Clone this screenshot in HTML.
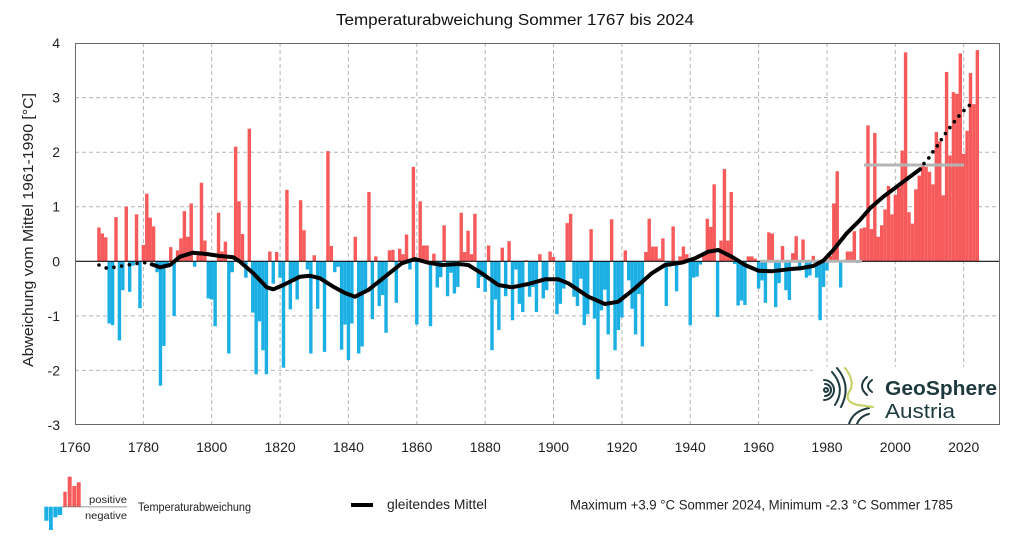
<!DOCTYPE html>
<html><head><meta charset="utf-8"><style>
html,body{margin:0;padding:0;background:#fff;}
svg{display:block;font-family:"Liberation Sans",sans-serif;}
</style></head><body>
<svg width="1030" height="540" viewBox="0 0 1030 540" xmlns="http://www.w3.org/2000/svg">
<rect width="1030" height="540" fill="#fff"/>
<text x="515" y="25" font-size="15.5" text-anchor="middle" textLength="358" lengthAdjust="spacingAndGlyphs" fill="#111">Temperaturabweichung Sommer 1767 bis 2024</text>
<g stroke="#b4b4b4" stroke-width="1" stroke-dasharray="4 3" fill="none">
<line x1="143.4" y1="43" x2="143.4" y2="425"/><line x1="211.7" y1="43" x2="211.7" y2="425"/><line x1="280.1" y1="43" x2="280.1" y2="425"/><line x1="348.4" y1="43" x2="348.4" y2="425"/><line x1="416.8" y1="43" x2="416.8" y2="425"/><line x1="485.2" y1="43" x2="485.2" y2="425"/><line x1="553.5" y1="43" x2="553.5" y2="425"/><line x1="621.9" y1="43" x2="621.9" y2="425"/><line x1="690.2" y1="43" x2="690.2" y2="425"/><line x1="758.6" y1="43" x2="758.6" y2="425"/><line x1="827" y1="43" x2="827" y2="425"/><line x1="895.3" y1="43" x2="895.3" y2="425"/><line x1="963.7" y1="43" x2="963.7" y2="425"/>
<line x1="75" y1="97.6" x2="1000" y2="97.6"/><line x1="75" y1="152.2" x2="1000" y2="152.2"/><line x1="75" y1="206.7" x2="1000" y2="206.7"/><line x1="75" y1="315.9" x2="1000" y2="315.9"/><line x1="75" y1="370.4" x2="1000" y2="370.4"/>
</g>
<g transform="translate(75,261.3) scale(3.418,-54.57)">
<g fill="#f65a5a">
<rect x="6.5" width="1" height=".62"/><rect x="7.5" width="1" height=".51"/><rect x="8.5" width="1" height=".44"/><rect x="11.5" width="1" height=".81"/><rect x="14.5" width="1" height="1.0"/><rect x="17.5" width="1" height=".86"/><rect x="19.5" width="1" height=".3"/><rect x="20.5" width="1" height="1.24"/><rect x="21.5" width="1" height=".8"/><rect x="22.5" width="1" height=".64"/><rect x="27.5" width="1" height=".26"/><rect x="29.5" width="1" height=".2"/><rect x="30.5" width="1" height=".42"/><rect x="31.5" width="1" height=".92"/><rect x="32.5" width="1" height=".45"/><rect x="33.5" width="1" height="1.06"/><rect x="35.5" width="1" height=".15"/><rect x="36.5" width="1" height="1.44"/><rect x="37.5" width="1" height=".38"/><rect x="41.5" width="1" height=".89"/><rect x="42.5" width="1" height=".18"/><rect x="43.5" width="1" height=".36"/><rect x="46.5" width="1" height="2.1"/><rect x="47.5" width="1" height="1.1"/><rect x="48.5" width="1" height=".5"/><rect x="50.5" width="1" height="2.43"/><rect x="56.5" width="1" height=".18"/><rect x="58.5" width="1" height=".17"/><rect x="61.5" width="1" height="1.31"/><rect x="65.5" width="1" height="1.12"/><rect x="66.5" width="1" height=".57"/><rect x="69.5" width="1" height=".11"/><rect x="73.5" width="1" height="2.02"/><rect x="74.5" width="1" height=".28"/><rect x="81.5" width="1" height=".45"/><rect x="85.5" width="1" height="1.27"/><rect x="87.5" width="1" height=".09"/><rect x="91.5" width="1" height=".2"/><rect x="92.5" width="1" height=".21"/><rect x="94.5" width="1" height=".23"/><rect x="95.5" width="1" height=".13"/><rect x="96.5" width="1" height=".49"/><rect x="98.5" width="1" height="1.73"/><rect x="100.5" width="1" height="1.1"/><rect x="101.5" width="1" height=".29"/><rect x="102.5" width="1" height=".29"/><rect x="104.5" width="1" height=".14"/><rect x="107.5" width="1" height=".66"/><rect x="112.5" width="1" height=".89"/><rect x="113.5" width="1" height=".17"/><rect x="114.5" width="1" height=".56"/><rect x="115.5" width="1" height=".13"/><rect x="116.5" width="1" height=".87"/><rect x="120.5" width="1" height=".29"/><rect x="124.5" width="1" height=".25"/><rect x="126.5" width="1" height=".37"/><rect x="131.5" width="1" height=".02"/><rect x="135.5" width="1" height=".13"/><rect x="138.5" width="1" height=".18"/><rect x="139.5" width="1" height=".08"/><rect x="143.5" width="1" height=".7"/><rect x="144.5" width="1" height=".87"/><rect x="150.5" width="1" height=".59"/><rect x="156.5" width="1" height=".77"/><rect x="160.5" width="1" height=".2"/><rect x="166.5" width="1" height=".17"/><rect x="167.5" width="1" height=".78"/><rect x="168.5" width="1" height=".27"/><rect x="169.5" width="1" height=".27"/><rect x="170.5" width="1" height=".05"/><rect x="171.5" width="1" height=".42"/><rect x="174.5" width="1" height=".64"/><rect x="176.5" width="1" height=".09"/><rect x="177.5" width="1" height=".27"/><rect x="178.5" width="1" height=".13"/><rect x="183.5" width="1" height=".17"/><rect x="184.5" width="1" height=".78"/><rect x="185.5" width="1" height=".63"/><rect x="186.5" width="1" height="1.41"/><rect x="188.5" width="1" height=".38"/><rect x="189.5" width="1" height="1.69"/><rect x="190.5" width="1" height=".38"/><rect x="191.5" width="1" height="1.27"/><rect x="196.5" width="1" height=".09"/><rect x="197.5" width="1" height=".09"/><rect x="198.5" width="1" height=".05"/><rect x="202.5" width="1" height=".53"/><rect x="203.5" width="1" height=".51"/><rect x="206.5" width="1" height=".28"/><rect x="209.5" width="1" height=".15"/><rect x="210.5" width="1" height=".46"/><rect x="212.5" width="1" height=".4"/><rect x="215.5" width="1" height=".1"/><rect x="220.5" width="1" height=".1"/><rect x="221.5" width="1" height="1.06"/><rect x="222.5" width="1" height="1.65"/><rect x="224.5" width="1" height=".02"/><rect x="225.5" width="1" height=".18"/><rect x="226.5" width="1" height=".18"/><rect x="227.5" width="1" height=".55"/><rect x="229.5" width="1" height=".6"/><rect x="230.5" width="1" height=".62"/><rect x="231.5" width="1" height="2.49"/><rect x="232.5" width="1" height=".59"/><rect x="233.5" width="1" height="2.35"/><rect x="234.5" width="1" height=".45"/><rect x="235.5" width="1" height=".66"/><rect x="236.5" width="1" height=".95"/><rect x="237.5" width="1" height="1.38"/><rect x="238.5" width="1" height=".86"/><rect x="239.5" width="1" height="1.22"/><rect x="240.5" width="1" height="1.35"/><rect x="241.5" width="1" height="2.03"/><rect x="242.5" width="1" height="3.83"/><rect x="243.5" width="1" height=".9"/><rect x="244.5" width="1" height=".69"/><rect x="245.5" width="1" height="1.32"/><rect x="246.5" width="1" height="1.57"/><rect x="247.5" width="1" height="1.79"/><rect x="248.5" width="1" height="1.73"/><rect x="249.5" width="1" height="1.64"/><rect x="250.5" width="1" height="1.41"/><rect x="251.5" width="1" height="2.37"/><rect x="252.5" width="1" height="2.2"/><rect x="253.5" width="1" height="1.21"/><rect x="254.5" width="1" height="3.47"/><rect x="255.5" width="1" height="1.94"/><rect x="256.5" width="1" height="3.1"/><rect x="257.5" width="1" height="3.07"/><rect x="258.5" width="1" height="3.81"/><rect x="259.5" width="1" height="1.97"/><rect x="260.5" width="1" height="2.39"/><rect x="261.5" width="1" height="3.45"/><rect x="262.5" width="1" height="2.88"/><rect x="263.5" width="1" height="3.87"/>
</g>
<g fill="#1cafe4">
<rect x="9.5" y="-1.14" width="1" height="1.14"/><rect x="10.5" y="-1.17" width="1" height="1.17"/><rect x="12.5" y="-1.45" width="1" height="1.45"/><rect x="13.5" y="-.53" width="1" height=".53"/><rect x="15.5" y="-.56" width="1" height=".56"/><rect x="16.5" y="-.08" width="1" height=".08"/><rect x="18.5" y="-.86" width="1" height=".86"/><rect x="23.5" y="-.2" width="1" height=".2"/><rect x="24.5" y="-2.28" width="1" height="2.28"/><rect x="25.5" y="-1.55" width="1" height="1.55"/><rect x="26.5" y="-.05" width="1" height=".05"/><rect x="28.5" y="-1.0" width="1" height="1.0"/><rect x="34.5" y="-.1" width="1" height=".1"/><rect x="38.5" y="-.68" width="1" height=".68"/><rect x="39.5" y="-.7" width="1" height=".7"/><rect x="40.5" y="-1.19" width="1" height="1.19"/><rect x="44.5" y="-1.69" width="1" height="1.69"/><rect x="45.5" y="-.2" width="1" height=".2"/><rect x="49.5" y="-.3" width="1" height=".3"/><rect x="51.5" y="-.94" width="1" height=".94"/><rect x="52.5" y="-2.07" width="1" height="2.07"/><rect x="53.5" y="-1.1" width="1" height="1.1"/><rect x="54.5" y="-1.63" width="1" height="1.63"/><rect x="55.5" y="-2.07" width="1" height="2.07"/><rect x="57.5" y="-.41" width="1" height=".41"/><rect x="59.5" y="-.3" width="1" height=".3"/><rect x="60.5" y="-1.95" width="1" height="1.95"/><rect x="62.5" y="-.88" width="1" height=".88"/><rect x="63.5" y="-.35" width="1" height=".35"/><rect x="64.5" y="-.7" width="1" height=".7"/><rect x="67.5" y="-.15" width="1" height=".15"/><rect x="68.5" y="-1.69" width="1" height="1.69"/><rect x="70.5" y="-.87" width="1" height=".87"/><rect x="71.5" y="-.3" width="1" height=".3"/><rect x="72.5" y="-1.66" width="1" height="1.66"/><rect x="75.5" y="-.2" width="1" height=".2"/><rect x="76.5" y="-.1" width="1" height=".1"/><rect x="77.5" y="-1.62" width="1" height="1.62"/><rect x="78.5" y="-1.16" width="1" height="1.16"/><rect x="79.5" y="-1.81" width="1" height="1.81"/><rect x="80.5" y="-1.14" width="1" height="1.14"/><rect x="82.5" y="-1.69" width="1" height="1.69"/><rect x="83.5" y="-1.56" width="1" height="1.56"/><rect x="84.5" y="-.53" width="1" height=".53"/><rect x="86.5" y="-1.06" width="1" height="1.06"/><rect x="88.5" y="-.82" width="1" height=".82"/><rect x="89.5" y="-.62" width="1" height=".62"/><rect x="90.5" y="-1.31" width="1" height="1.31"/><rect x="93.5" y="-.76" width="1" height=".76"/><rect x="97.5" y="-.15" width="1" height=".15"/><rect x="99.5" y="-1.16" width="1" height="1.16"/><rect x="103.5" y="-1.19" width="1" height="1.19"/><rect x="105.5" y="-.48" width="1" height=".48"/><rect x="106.5" y="-.29" width="1" height=".29"/><rect x="108.5" y="-.64" width="1" height=".64"/><rect x="109.5" y="-.21" width="1" height=".21"/><rect x="110.5" y="-.59" width="1" height=".59"/><rect x="111.5" y="-.47" width="1" height=".47"/><rect x="117.5" y="-.49" width="1" height=".49"/><rect x="118.5" y="-.29" width="1" height=".29"/><rect x="119.5" y="-.56" width="1" height=".56"/><rect x="121.5" y="-1.63" width="1" height="1.63"/><rect x="122.5" y="-.7" width="1" height=".7"/><rect x="123.5" y="-1.26" width="1" height="1.26"/><rect x="125.5" y="-.64" width="1" height=".64"/><rect x="127.5" y="-1.08" width="1" height="1.08"/><rect x="128.5" y="-.15" width="1" height=".15"/><rect x="129.5" y="-.78" width="1" height=".78"/><rect x="130.5" y="-.93" width="1" height=".93"/><rect x="132.5" y="-.65" width="1" height=".65"/><rect x="133.5" y="-.47" width="1" height=".47"/><rect x="134.5" y="-.93" width="1" height=".93"/><rect x="136.5" y="-.68" width="1" height=".68"/><rect x="137.5" y="-.53" width="1" height=".53"/><rect x="140.5" y="-.97" width="1" height=".97"/><rect x="141.5" y="-.78" width="1" height=".78"/><rect x="142.5" y="-.5" width="1" height=".5"/><rect x="145.5" y="-.65" width="1" height=".65"/><rect x="146.5" y="-.82" width="1" height=".82"/><rect x="147.5" y="-.32" width="1" height=".32"/><rect x="148.5" y="-1.17" width="1" height="1.17"/><rect x="149.5" y="-.97" width="1" height=".97"/><rect x="151.5" y="-1.05" width="1" height="1.05"/><rect x="152.5" y="-2.16" width="1" height="2.16"/><rect x="153.5" y="-.9" width="1" height=".9"/><rect x="154.5" y="-.52" width="1" height=".52"/><rect x="155.5" y="-1.34" width="1" height="1.34"/><rect x="157.5" y="-1.63" width="1" height="1.63"/><rect x="158.5" y="-1.26" width="1" height="1.26"/><rect x="159.5" y="-1.03" width="1" height="1.03"/><rect x="161.5" y="-.35" width="1" height=".35"/><rect x="162.5" y="-.87" width="1" height=".87"/><rect x="163.5" y="-1.34" width="1" height="1.34"/><rect x="164.5" y="-.6" width="1" height=".6"/><rect x="165.5" y="-1.56" width="1" height="1.56"/><rect x="172.5" y="-.82" width="1" height=".82"/><rect x="173.5" y="-.1" width="1" height=".1"/><rect x="175.5" y="-.55" width="1" height=".55"/><rect x="179.5" y="-1.17" width="1" height="1.17"/><rect x="180.5" y="-.3" width="1" height=".3"/><rect x="181.5" y="-.28" width="1" height=".28"/><rect x="182.5" y="-.06" width="1" height=".06"/><rect x="187.5" y="-1.02" width="1" height="1.02"/><rect x="192.5" y="-.05" width="1" height=".05"/><rect x="193.5" y="-.81" width="1" height=".81"/><rect x="194.5" y="-.72" width="1" height=".72"/><rect x="195.5" y="-.8" width="1" height=".8"/><rect x="199.5" y="-.5" width="1" height=".5"/><rect x="200.5" y="-.35" width="1" height=".35"/><rect x="201.5" y="-.76" width="1" height=".76"/><rect x="204.5" y="-.84" width="1" height=".84"/><rect x="205.5" y="-.4" width="1" height=".4"/><rect x="207.5" y="-.53" width="1" height=".53"/><rect x="208.5" y="-.71" width="1" height=".71"/><rect x="211.5" y="-.17" width="1" height=".17"/><rect x="213.5" y="-.3" width="1" height=".3"/><rect x="214.5" y="-.26" width="1" height=".26"/><rect x="216.5" y="-.3" width="1" height=".3"/><rect x="217.5" y="-1.08" width="1" height="1.08"/><rect x="218.5" y="-.47" width="1" height=".47"/><rect x="219.5" y="-.17" width="1" height=".17"/><rect x="223.5" y="-.48" width="1" height=".48"/><rect x="228.5" y="-.03" width="1" height=".03"/>
</g>
</g>
<line x1="75" y1="261.3" x2="1000" y2="261.3" stroke="#111" stroke-width="1.2"/>
<line x1="760" y1="261.3" x2="862" y2="261.3" stroke="#b4b4b4" stroke-width="3"/>
<line x1="864" y1="165" x2="964" y2="165" stroke="#b4b4b4" stroke-width="3"/>
<g fill="none" stroke="#000" stroke-linecap="round" stroke-linejoin="round">
<path stroke-width="3.6" stroke-dasharray="0 7.8" d="M99,265 L106,268 L114,267.3 L122,266 L130,264.7 L138,263.3 L145,262.7 L151,263.6"/>
<path stroke-width="4" d="M151.7,264.3 L160,267.3 L170,265 L180,256.7 L193,252.7 L206.7,254 L220,256 L233.3,257.3 L240,261.7 L253.3,273.3 L266.7,287.3 L273.3,289.3 L283.3,285 L300,276.7 L310,275.7 L320,278.3 L333.3,286.7 L345,293 L355,296.7 L368.3,290 L385,276.7 L401.7,263.3 L415,259 L428.3,262.7 L441.7,265 L458.3,264 L468.3,265 L481.7,273.3 L498.3,285 L511.7,287.3 L528.3,284 L545,279.3 L558.3,279.3 L568.3,283.3 L588.3,296.7 L605,304 L618.3,301.7 L635,288.3 L651.7,273.3 L665,265 L681.7,262.7 L695,258.3 L708.3,251.7 L718.3,250 L731.7,256.7 L745,265 L758.3,270.7 L771.7,271.3 L788.3,269.3 L800,268.3 L813.3,266 L823.3,260.7 L833.3,250 L846.7,233.3 L860,220 L870,208.3 L883.3,196.7 L896.7,186.7 L910,176.7 L920,169.3"/>
<path stroke-width="3.6" stroke-dasharray="0 7.4" stroke-dashoffset="-7" d="M920,169.3 L925,162 L930,156.7 L934,150 L938.7,144 L942.7,137.3 L947.3,131 L952.3,124.3 L957,118.3 L961.7,112.7 L967.3,107.3 L972.7,102.3"/>
</g>
<rect x="813" y="367" width="186.5" height="57.5" fill="#fff"/>
<g fill="none" stroke="#1e3a3f" stroke-width="2" stroke-linecap="round">
<circle cx="826" cy="390" r="2"/>
<path d="M825,384 A6,6 0 0 1 825,396"/>
<path d="M824,380 A10,10 0 0 1 824,400"/>
<path d="M832,372 Q846,388 835,405"/>
<path d="M837,368 Q852,386 841,407"/>
<path d="M867,377 Q857,386 867,395"/>
<path d="M872,380 Q864,386 872,392"/>
<path d="M849,424 Q853,411 869,408"/>
<path d="M857,424 Q860,416 869,414"/>
</g>
<path d="M845,368 Q856,382 849,392 Q844,402 858,405 L873,407" fill="none" stroke="#c9d36b" stroke-width="2.2" stroke-linecap="round"/>
<text x="885" y="395" font-size="20.5" font-weight="bold" fill="#1e3a3f" textLength="112" lengthAdjust="spacingAndGlyphs">GeoSphere</text>
<text x="885" y="418" font-size="20.5" fill="#1e3a3f" textLength="70" lengthAdjust="spacingAndGlyphs">Austria</text>
<rect x="75.5" y="43.5" width="924" height="381" fill="none" stroke="#6a6a6a" stroke-width="1"/>
<g font-size="14" fill="#222" text-anchor="end">
<text x="60" y="48">4</text><text x="60" y="102.6">3</text><text x="60" y="157.2">2</text><text x="60" y="211.7">1</text><text x="60" y="266.3">0</text><text x="60" y="320.9">-1</text><text x="60" y="375.4">-2</text><text x="60" y="430">-3</text>
</g>
<g font-size="14" fill="#222" text-anchor="middle">
<text x="75" y="452">1760</text><text x="143.4" y="452">1780</text><text x="211.7" y="452">1800</text><text x="280.1" y="452">1820</text><text x="348.4" y="452">1840</text><text x="416.8" y="452">1860</text><text x="485.2" y="452">1880</text><text x="553.5" y="452">1900</text><text x="621.9" y="452">1920</text><text x="690.2" y="452">1940</text><text x="758.6" y="452">1960</text><text x="827" y="452">1980</text><text x="895.3" y="452">2000</text><text x="963.7" y="452">2020</text>
</g>
<text transform="translate(33,230) rotate(-90)" x="0" y="0" font-size="14.5" fill="#222" text-anchor="middle" textLength="274" lengthAdjust="spacingAndGlyphs">Abweichung vom Mittel 1961-1990 [°C]</text>
<g fill="#f65a5a">
<rect x="63.3" y="491.7" width="3.4" height="15"/><rect x="67.7" y="476.7" width="4" height="30"/><rect x="72.3" y="486" width="4" height="20.7"/><rect x="76.7" y="482.3" width="4" height="24.4"/>
</g>
<g fill="#1cafe4">
<rect x="44.3" y="506.7" width="4.2" height="14"/><rect x="49" y="506.7" width="3.8" height="23.3"/><rect x="53.3" y="506.7" width="4.2" height="10.6"/><rect x="57.7" y="506.7" width="4.5" height="8.3"/>
</g>
<line x1="62" y1="506.9" x2="127" y2="506.9" stroke="#777" stroke-width="0.8"/>
<text x="127" y="503" font-size="10.5" fill="#222" text-anchor="end" textLength="38" lengthAdjust="spacingAndGlyphs">positive</text>
<text x="127" y="519" font-size="10.5" fill="#222" text-anchor="end" textLength="42" lengthAdjust="spacingAndGlyphs">negative</text>
<text x="138" y="511" font-size="11.5" fill="#222" textLength="113" lengthAdjust="spacingAndGlyphs">Temperaturabweichung</text>
<line x1="351" y1="505" x2="373" y2="505" stroke="#000" stroke-width="4"/>
<text x="387" y="509" font-size="14" fill="#222" textLength="100" lengthAdjust="spacingAndGlyphs">gleitendes Mittel</text>
<text x="570" y="509.5" font-size="13.5" fill="#222" textLength="383" lengthAdjust="spacingAndGlyphs">Maximum +3.9 °C Sommer 2024, Minimum -2.3 °C Sommer 1785</text>
</svg>
</body></html>
